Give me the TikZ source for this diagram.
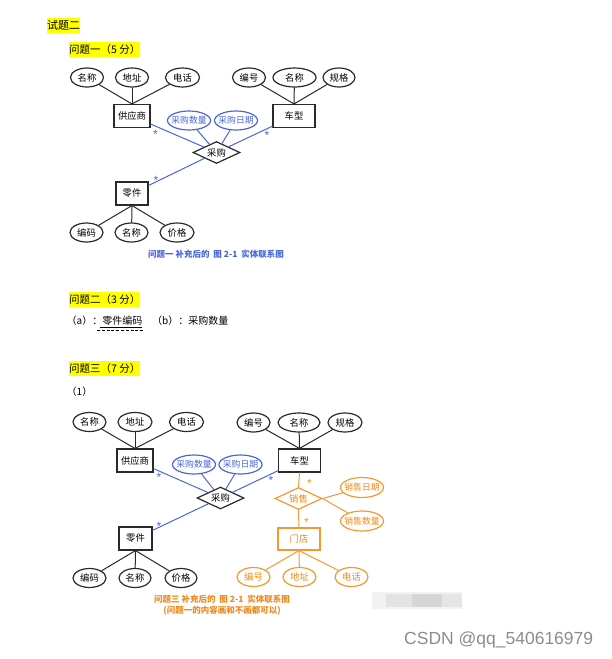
\documentclass[tikz,border=0pt]{standalone}
\usepackage{fontspec}
\setmainfont{Liberation Serif}
\newfontfamily\cjk{Noto Sans CJK SC}
\newfontfamily\wm{Liberation Sans}
\usetikzlibrary{shapes.geometric}
\definecolor{bl}{HTML}{4A67D8}
\definecolor{og}{HTML}{F29A2E}
\definecolor{ogt}{HTML}{EE8A1C}
\definecolor{hl}{HTML}{FFFF00}
\definecolor{dk}{HTML}{2A2A2A}
\begin{document}
\begin{tikzpicture}[x=1pt,y=-1pt,
  every node/.style={inner sep=0pt},
  lbl/.style={font=\cjk\fontsize{9.3}{10}\selectfont},
  attr/.style={lbl,ellipse,draw=dk,line width=1.2pt,minimum width=33pt,minimum height=19pt},
  wattr/.style={attr,minimum width=43pt,inner xsep=-8pt,font=\cjk\fontsize{8.8}{9}\selectfont},
  ent/.style={lbl,rectangle,draw=dk,line width=1.1pt,minimum width=36pt,minimum height=23pt},
  rel/.style={lbl,diamond,draw=dk,line width=1.2pt,minimum width=47pt,minimum height=22pt,aspect=2.1},
  battr/.style={wattr,draw=bl,text=bl},
  oattr/.style={attr,draw=og,text=ogt},
  lk/.style={line width=1pt,draw=dk},
  blk/.style={line width=1pt,draw=bl},
  olk/.style={line width=1pt,draw=og},
  bstar/.style={font=\wm\fontsize{12}{12}\selectfont,text=bl},
  ostar/.style={font=\wm\fontsize{12}{12}\selectfont,text=og},
  hlt/.style={fill=hl,font=\cjk\fontsize{10.5}{11}\selectfont,minimum height=15pt,anchor=west},
  body/.style={font=\cjk\fontsize{10}{10}\selectfont,anchor=west},
  captxt/.style={font=\cjk\bfseries\fontsize{8.5}{9}\selectfont}
]
\useasboundingbox (0,0) rectangle (611,659);
\fill[white] (0,0) rectangle (611,659);

% ---------- headings ----------
\node[hlt,font=\cjk\fontsize{11}{11}\selectfont] (h0) at (47,25.5) {试题二};
\node[hlt] (h1) at (69,49.5) {问题一（5 分）};
\node[hlt] (h2) at (69,299.5) {问题二（3 分）};
\node[hlt] (h3) at (69,368.5) {问题三（7 分）};

% ---------- figure 1 ----------
\node[attr] (a1) at (87,77.5) {名称};
\node[attr] (a2) at (132,77.5) {地址};
\node[attr,minimum width=34pt] (a3) at (182.5,77.5) {电话};
\node[attr] (b1) at (249,77.5) {编号};
\node[attr,minimum width=43pt] (b2) at (294.5,77.5) {名称};
\node[attr,minimum width=32pt] (b3) at (339,77.5) {规格};
\node[ent] (s1) at (132,116) {供应商};
\node[ent,minimum width=42pt] (c1) at (294,116) {车型};
\node[battr] (q1) at (189,120.5) {采购数量};
\node[battr] (q2) at (236,120.5) {采购日期};
\node[rel] (r1) at (216.5,152.5) {采购};
\node[ent,minimum width=32pt] (p1) at (132,193.5) {零件};
\node[attr] (d1) at (86.5,232.5) {编码};
\node[attr] (d2) at (131.5,232.5) {名称};
\node[attr,minimum width=34pt] (d3) at (177,232.5) {价格};

\draw[lk] (a1) -- (s1.north);
\draw[lk] (a2) -- (s1.north);
\draw[lk] (a3) -- (s1.north);
\draw[lk] (b1) -- (c1.north);
\draw[lk] (b2) -- (c1.north);
\draw[lk] (b3) -- (c1.north);
\draw[lk] (p1.south) -- (d1);
\draw[lk] (p1.south) -- (d2);
\draw[lk] (p1.south) -- (d3);
\draw[blk] (s1) -- (r1);
\draw[blk] (c1) -- (r1);
\draw[blk] (p1) -- (r1);
\draw[blk] (q1) -- (r1);
\draw[blk] (q2) -- (r1);
\node[bstar] (st1) at (155.5,134) {*};
\node[bstar] (st2) at (267,135) {*};
\node[bstar] (st3) at (156,180) {*};
\node[captxt,text=bl] (cap1) at (216,254.5) {问题一 补充后的 \ 图 2-1 \ 实体联系图};

% ---------- question 2 ----------
\node[body] (ansa) at (66.5,321) {（a）：零件编码};
\node[body] (ansb) at (152,321) {（b）：采购数量};
\draw[line width=1.3pt] (100,327.5) -- (142,327.5);
\draw[line width=1.3pt,dash pattern=on 3pt off 1.8pt] (97,330.8) -- (143,330.8);

% ---------- question 3 ----------
\node[body] (n1) at (66.5,392) {（1）};

\node[attr] (A1) at (89.5,422) {名称};
\node[attr,minimum width=34pt] (A2) at (135,422) {地址};
\node[attr,minimum width=34pt] (A3) at (186.5,422) {电话};
\node[attr] (B1) at (253.5,422.5) {编号};
\node[attr,minimum width=42pt] (B2) at (299,422.5) {名称};
\node[attr,minimum width=34pt] (B3) at (345,422.5) {规格};
\node[ent] (S1) at (135,460.5) {供应商};
\node[ent,minimum width=42pt] (C1) at (299.5,460.5) {车型};
\node[battr] (Q1) at (194,464.5) {采购数量};
\node[battr] (Q2) at (240.5,464.5) {采购日期};
\node[rel] (R1) at (220.5,498) {采购};
\node[ent,minimum width=33pt] (P1) at (135.5,538.5) {零件};
\node[attr] (D1) at (89.5,578) {编码};
\node[attr,minimum width=32pt] (D2) at (135,578) {名称};
\node[attr,minimum width=32pt] (D3) at (181,578) {价格};

\draw[lk] (A1) -- (S1.north);
\draw[lk] (A2) -- (S1.north);
\draw[lk] (A3) -- (S1.north);
\draw[lk] (B1) -- (C1.north);
\draw[lk] (B2) -- (C1.north);
\draw[lk] (B3) -- (C1.north);
\draw[lk] (P1.south) -- (D1);
\draw[lk] (P1.south) -- (D2);
\draw[lk] (P1.south) -- (D3);
\draw[blk] (S1) -- (R1);
\draw[blk] (C1) -- (R1);
\draw[blk] (P1) -- (R1);
\draw[blk] (Q1) -- (R1);
\draw[blk] (Q2) -- (R1);
\node[bstar] (ST1) at (159,477) {*};
\node[bstar] (ST2) at (271,480) {*};
\node[bstar] (ST3) at (159,526) {*};

% orange part
\node[rel,draw=og,text=ogt] (X2) at (298.5,498.5) {销售};
\node[wattr,draw=og,text=ogt,minimum height=20pt] (SD) at (362,487.5) {销售日期};
\node[wattr,draw=og,text=ogt,minimum height=20pt] (SQ) at (362,521) {销售数量};
\node[ent,draw=og,text=ogt,minimum width=42pt,minimum height=22pt] (M2) at (299,539) {门店};
\node[oattr] (E1) at (253.5,577) {编号};
\node[oattr] (E2) at (299.5,577) {地址};
\node[oattr] (E3) at (351.5,577) {电话};
\draw[olk] (C1.south) -- (X2.north);
\draw[olk] (X2.south) -- (M2.north);
\draw[olk] (X2.east) -- (SD);
\draw[olk] (X2.east) -- (SQ);
\draw[olk] (M2.south) -- (E1);
\draw[olk] (M2.south) -- (E2);
\draw[olk] (M2.south) -- (E3);
\node[ostar] (OS1) at (309.5,483) {*};
\node[ostar] (OS2) at (306.5,522) {*};

\node[captxt,text=ogt] (cap3) at (222,599.5) {问题三 补充后的 \ 图 2-1 \ 实体联系图};
\node[captxt,text=ogt] (cap3b) at (222,611) {(问题一的内容画和不画都可以)};

% blurred patch and watermark
\fill[gray!10] (372,592) rectangle (462,609);
\fill[gray!22] (386,594) rectangle (412,607);
\fill[gray!32] (412,594) rectangle (442,607);
\fill[gray!20] (442,594) rectangle (462,607);
\node[anchor=west,font=\wm\fontsize{17.5}{18}\selectfont,text=black!45] (wmk) at (404,640) {CSDN @qq\_540616979};
\end{tikzpicture}
\end{document}
